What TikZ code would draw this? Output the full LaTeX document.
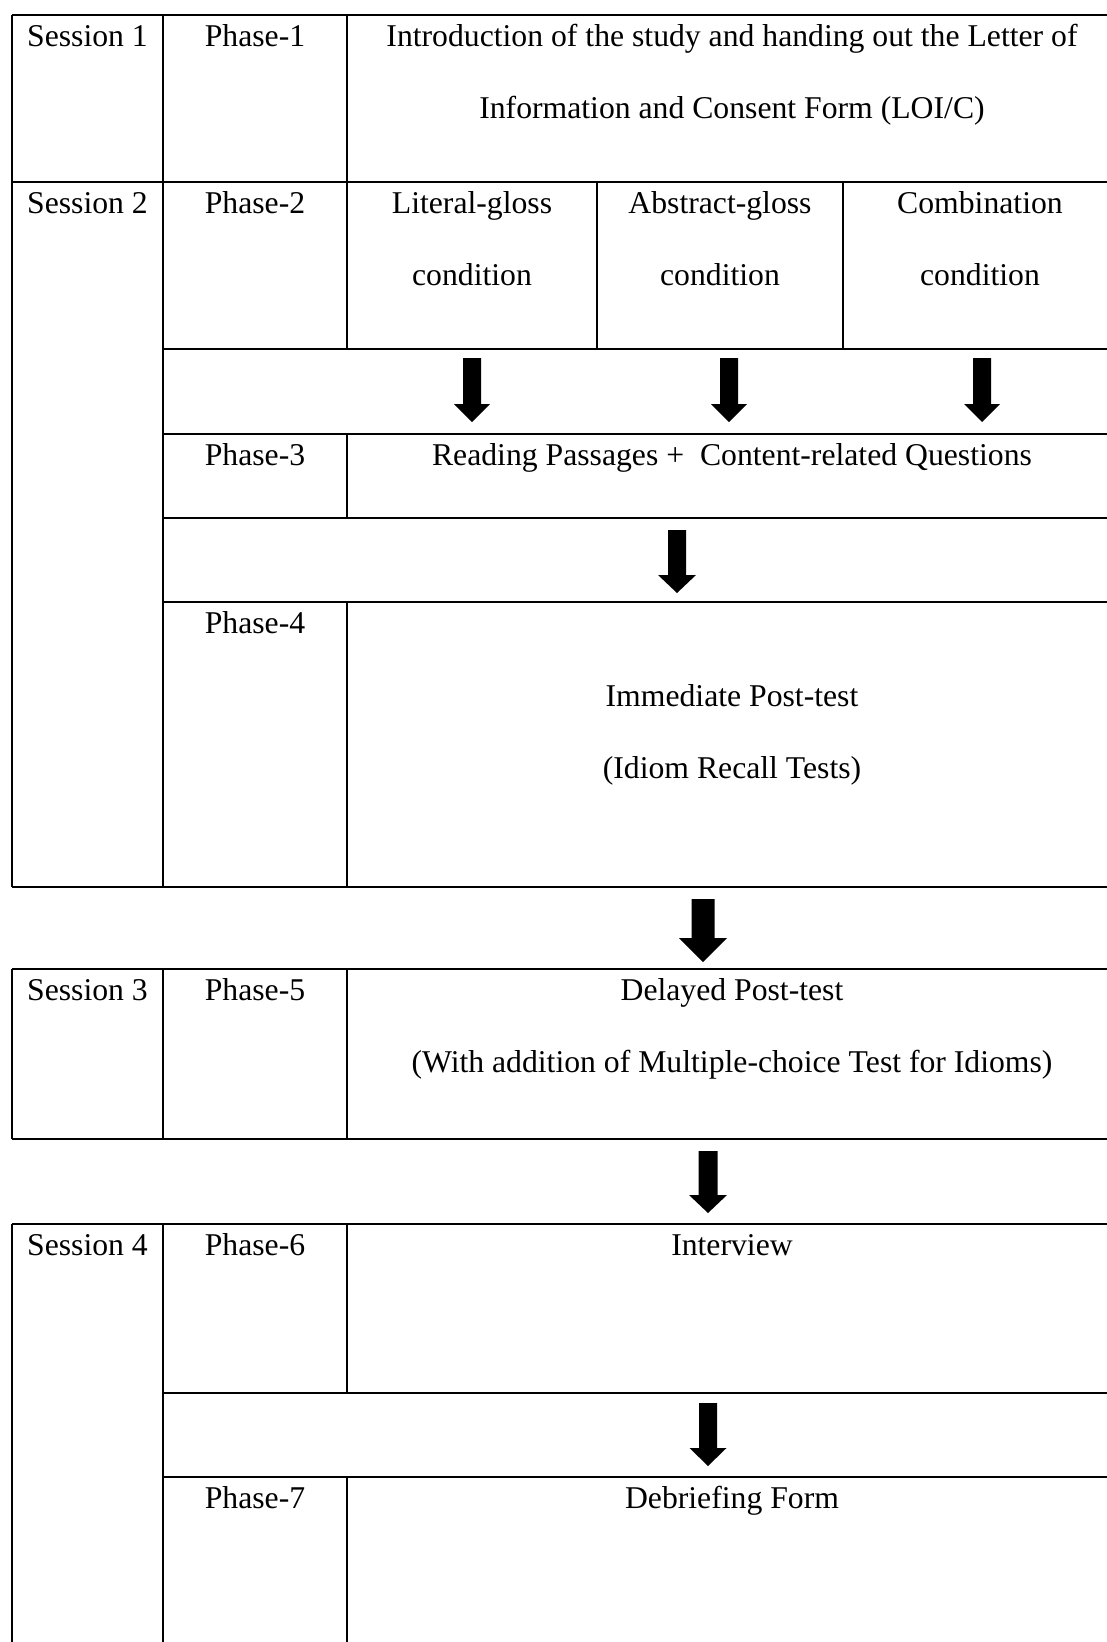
\documentclass[tikz,border=0pt]{standalone}
\usepackage{fontspec}
\setmainfont{Liberation Serif}

\tikzset{
  rule/.style={black, line width=1.3pt},
  celltext/.style={font=\fontsize{31.7}{72.5}\selectfont, inner sep=0pt, anchor=base, align=center},
}

% thick down arrow: x, top, head start, tip, shaft half width, head half width
\newcommand{\blockdown}[6]{%
  \fill[black] (#1-#5,#2) -- (#1+#5,#2) -- (#1+#5,#3) -- (#1+#6,#3) -- (#1,#4)
    -- (#1-#6,#3) -- (#1-#5,#3) -- cycle;}

\begin{document}
\begin{tikzpicture}[x=1pt, y=-1pt]
        \useasboundingbox (0,0) rectangle (1107,1642);
        % sessions 1 and 2
        \draw[rule] (12,15) -- (1110,15);
        \draw[rule] (12,182) -- (1110,182);
        \draw[rule] (163,349) -- (1110,349);
        \draw[rule] (163,434) -- (1110,434);
        \draw[rule] (163,518) -- (1110,518);
        \draw[rule] (163,602) -- (1110,602);
        \draw[rule] (12,887) -- (1110,887);
        \draw[rule] (12,15) -- (12,887);
        \draw[rule] (163,15) -- (163,887);
        \draw[rule] (347,15) -- (347,349);
        \draw[rule] (347,434) -- (347,518);
        \draw[rule] (347,602) -- (347,887);
        \draw[rule] (597,182) -- (597,349);
        \draw[rule] (843,182) -- (843,349);
        % session 3
        \draw[rule] (12,969) -- (1110,969);
        \draw[rule] (12,1139) -- (1110,1139);
        \draw[rule] (12,969) -- (12,1139);
        \draw[rule] (163,969) -- (163,1139);
        \draw[rule] (347,969) -- (347,1139);
        % session 4
        \draw[rule] (12,1224) -- (1110,1224);
        \draw[rule] (163,1393) -- (1110,1393);
        \draw[rule] (163,1477) -- (1110,1477);
        \draw[rule] (12,1224) -- (12,1645);
        \draw[rule] (163,1224) -- (163,1645);
        \draw[rule] (347,1224) -- (347,1393);
        \draw[rule] (347,1477) -- (347,1645);

        % two-line cells sit on the baseline of their last line
        \node[celltext] (s1) at (87.5,46) {Session 1};
        \node[celltext] (p1) at (255,46) {Phase-1};
        \node[celltext] (intro) at (732,118.5) {Introduction of the study and handing out the Letter of\\Information and Consent Form (LOI/C)};
        \node[celltext] (s2) at (87.5,213) {Session 2};
        \node[celltext] (p2) at (255,213) {Phase-2};
        \node[celltext] (literal) at (472,285.5) {Literal-gloss\\condition};
        \node[celltext] (abstract) at (720,285.5) {Abstract-gloss\\condition};
        \node[celltext] (combi) at (980,285.5) {Combination\\condition};
        \node[celltext] (p3) at (255,465) {Phase-3};
        \node[celltext] (reading) at (732,465) {Reading Passages +~ Content-related Questions};
        \node[celltext] (p4) at (255,633) {Phase-4};
        \node[celltext] (immediate) at (732,778.5) {Immediate Post-test\\(Idiom Recall Tests)};
        \node[celltext] (s3) at (87.5,1000) {Session 3};
        \node[celltext] (p5) at (255,1000) {Phase-5};
        \node[celltext] (delayed) at (732,1072.5) {Delayed Post-test\\(With addition of Multiple-choice Test for Idioms)};
        \node[celltext] (s4) at (87.5,1255) {Session 4};
        \node[celltext] (p6) at (255,1255) {Phase-6};
        \node[celltext] (interview) at (732,1255) {Interview};
        \node[celltext] (p7) at (255,1508) {Phase-7};
        \node[celltext] (debrief) at (732,1508) {Debriefing Form};

        \blockdown{472}{358}{404}{422}{9}{18}
        \blockdown{729}{358}{404}{422}{9}{18}
        \blockdown{982}{358}{404}{422}{9}{18}
        \blockdown{677}{530}{575}{593}{9}{19}
        \blockdown{703}{899}{938}{962}{11.5}{24}
        \blockdown{708}{1151}{1195}{1213}{9.5}{19}
        \blockdown{708}{1403}{1448}{1466}{9}{18.5}
    \end{tikzpicture}
\end{document}
